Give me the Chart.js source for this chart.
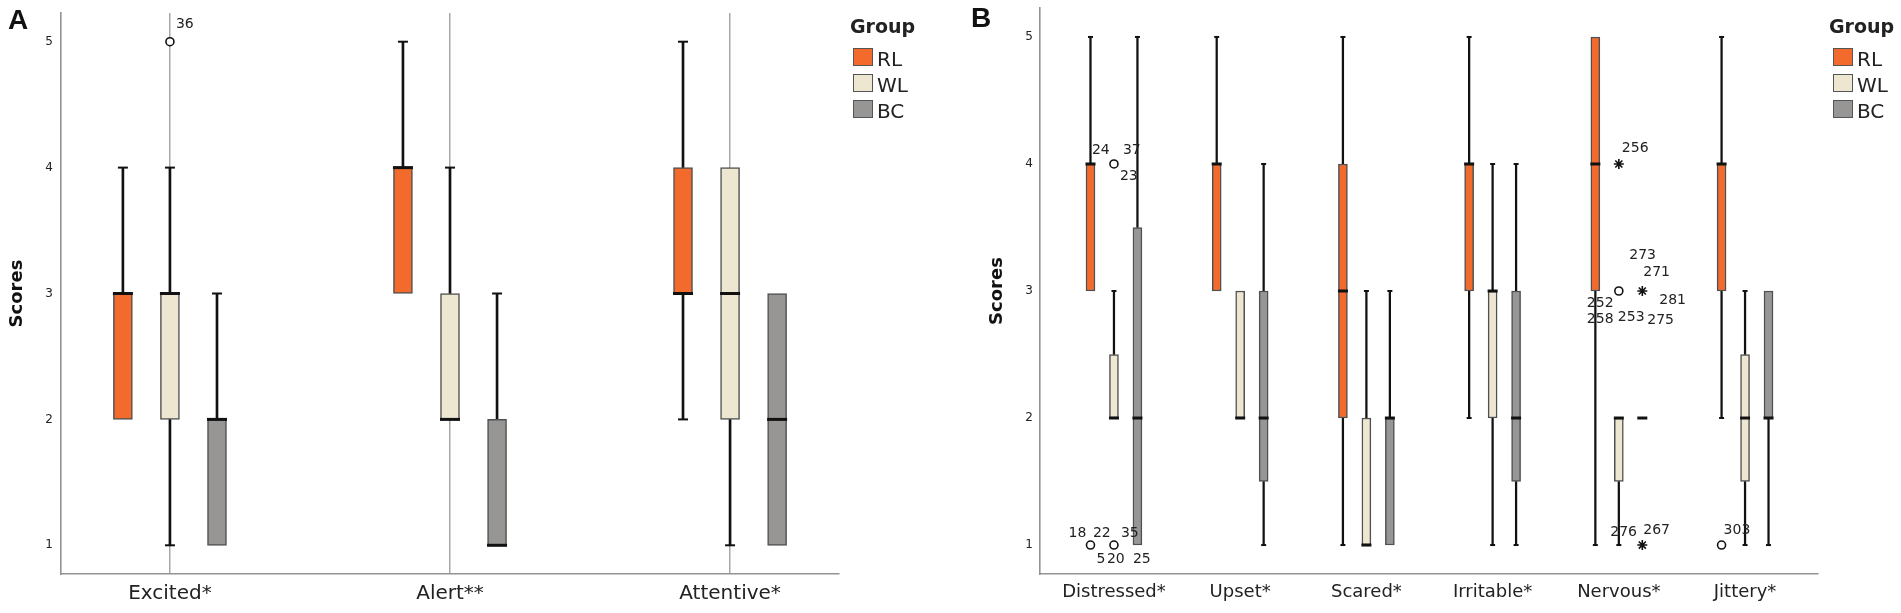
<!DOCTYPE html>
<html><head><meta charset="utf-8">
<script src="https://cdn.jsdelivr.net/npm/chart.js@4.4.1/dist/chart.umd.min.js"></script>
<style>
html,body{margin:0;padding:0;background:#fff;width:1901px;height:613px;overflow:hidden;}
.wrap{position:absolute;top:0;height:613px;}
.panel{position:absolute;font:bold 28px 'Liberation Sans',Arial,sans-serif;line-height:28px;color:#111;}
.lgt{position:absolute;font:bold 19px 'DejaVu Sans',sans-serif;line-height:19px;color:#222;}
.sw{position:absolute;width:18px;height:16px;border:1.5px solid #555;}
.lgl{position:absolute;font:20px 'DejaVu Sans',sans-serif;line-height:20px;color:#222;}
</style></head><body>
<div class="wrap" style="left:0;width:950px"><canvas id="ca"></canvas></div>
<div class="wrap" style="left:950px;width:951px"><canvas id="cb"></canvas></div>
<div class="panel" style="left:8px;top:6px">A</div>
<div class="panel" style="left:971px;top:4px">B</div>
<div id="legA"></div><div id="legB"></div>
<script>
// ---------------- DATA ----------------
const groups = ['RL', 'WL', 'BC'];
const yTicks = [1, 2, 3, 4, 5];
// five-number summaries: [min, q1, median, q3, max]
const categoriesA = ['Excited*', 'Alert**', 'Attentive*'];
const rlA = [[2,2,3,3,4],[3,3,4,4,5],[2,3,3,4,5]];
const wlA = [[1,2,3,3,4],[2,2,2,3,4],[1,2,3,4,4]];
const bcA = [[1,1,2,2,3],[1,1,1,2,3],[1,1,2,3,3]];
// outliers: [category index, group index, value, marker]
const outliersA = [[0,1,5,'circle']];
const outlierIdsA = [['36']];

const categoriesB = ['Distressed*', 'Upset*', 'Scared*', 'Irritable*', 'Nervous*', 'Jittery*'];
const rlB = [[3,3,4,4,5],[3,3,4,4,5],[1,2,3,4,5],[2,3,4,4,5],[1,3,4,5,5],[2,3,4,4,5]];
const wlB = [[2,2,2,2.5,3],[2,2,2,3,3],[1,1,1,2,3],[1,2,3,3,4],[1,1.5,2,2,2],[1,1.5,2,2.5,3]];
const bcB = [[1,1,2,3.5,5],[1,1.5,2,3,4],[1,1,2,2,3],[1,1.5,2,3,4],[2,2,2,2,2],[1,2,2,3,3]];
const outliersB = [
  [0,0,1,'circle'],
  [0,1,4,'circle'],
  [0,1,1,'circle'],
  [4,1,4,'star'],
  [4,1,3,'circle'],
  [4,2,3,'star'],
  [4,2,1,'star'],
  [5,0,1,'circle']
];
const outlierIdsB = [['18','5'],['24','37','23'],['22','35','20','25'],['256'],['252','258','253'],['273','271','281','275'],['276','267'],['303']];

// ---------------- LAYOUT / STYLE ----------------
const fills = ['#F26B2D', '#EDE7D2', '#989595'];
const idOffsetsA = [[[6,-17]]];
const idOffsetsB = [
  [[-22,-12],[6,14]],
  [[-22,-14],[9,-14],[6,12]],
  [[-21,-12],[7,-12],[-7,14],[19,14]],
  [[3,-16]],
  [[-32,12],[-32,28],[-1,26]],
  [[-13,-36],[1,-19],[17,9],[5,29]],
  [[-32,-13],[1,-15]],
  [[2,-15]]
];

Chart.defaults.font.family = "'DejaVu Sans', sans-serif";

function buildDatasets(stats, outliers, L) {
  const ds = [];
  stats.forEach((st, g) => {
    const xs = st.map((s, i) => i + (g - 1) * L.step);
    ds.push({
      type: 'bar', label: groups[g], order: 2, grouped: false,
      data: st.map((s, i) => ({x: xs[i], y: [s[1], s[3]]})),
      backgroundColor: fills[g], borderColor: '#505050', borderWidth: 1.5,
      borderSkipped: false, barThickness: L.boxW
    });
    const wh = [], caps = [];
    st.forEach((s, i) => {
      if (s[0] < s[1]) { wh.push({x: xs[i], y: [s[0], s[1]]}); caps.push({x: xs[i], y: s[0]}); }
      if (s[4] > s[3]) { wh.push({x: xs[i], y: [s[3], s[4]]}); caps.push({x: xs[i], y: s[4]}); }
    });
    ds.push({
      type: 'bar', label: groups[g] + ' whiskers', order: 3, grouped: false,
      data: wh, backgroundColor: '#111', borderWidth: 0, barThickness: L.whiskerW
    });
    ds.push({
      type: 'scatter', label: groups[g] + ' caps', order: 1, data: caps,
      pointStyle: 'line', radius: L.capR, borderWidth: 2, borderColor: '#111'
    });
    ds.push({
      type: 'scatter', label: groups[g] + ' median', order: 0,
      data: st.map((s, i) => ({x: xs[i], y: s[2]})),
      pointStyle: 'line', radius: L.boxW / 2 + 0.5, borderWidth: 3, borderColor: '#111'
    });
  });
  ['circle', 'star'].forEach(m => {
    ds.push({
      type: 'scatter', label: 'outliers ' + m, order: 0,
      data: outliers.filter(o => o[3] === m).map(o => ({x: o[0] + (o[1] - 1) * L.step, y: o[2]})),
      pointStyle: m, radius: m === 'circle' ? 4 : 5, borderWidth: 1.6,
      borderColor: '#111', backgroundColor: '#fff'
    });
  });
  return ds;
}

function idLabelPlugin(outliers, ids, offs, L) {
  return {
    id: 'idLabels',
    afterDatasetsDraw(chart) {
      const {ctx, scales: {x, y}} = chart;
      ctx.save();
      ctx.font = "14px 'DejaVu Sans', sans-serif";
      ctx.fillStyle = '#222';
      ctx.textAlign = 'left';
      ctx.textBaseline = 'middle';
      outliers.forEach((o, i) => {
        const px = x.getPixelForValue(o[0] + (o[1] - 1) * L.step);
        const py = y.getPixelForValue(o[2]);
        ids[i].forEach((t, j) => ctx.fillText(t, px + offs[i][j][0], py + offs[i][j][1]));
      });
      ctx.restore();
    }
  };
}

function makeChart(canvasId, cats, stats, outliers, ids, offs, L) {
  new Chart(document.getElementById(canvasId), {
    type: 'bar',
    data: {datasets: buildDatasets(stats, outliers, L)},
    options: {
      responsive: true, maintainAspectRatio: false, animation: false, events: [],
      layout: {padding: {left: 0, right: L.padRight, top: 8, bottom: 0}},
      plugins: {legend: {display: false}, tooltip: {enabled: false}},
      scales: {
        x: {
          type: 'linear', min: L.xMin, max: L.xMax, offset: false,
          afterBuildTicks: s => { s.ticks = cats.map((c, i) => ({value: i})); },
          afterFit: s => { s.height = 39; s.paddingLeft = 0; s.paddingRight = 0; },
          grid: {display: L.vGrid, offset: false, color: '#a8a8a8', lineWidth: 1.5, drawTicks: false},
          border: {display: true, color: '#939393', width: 1.6},
          ticks: {callback: v => cats[v] ?? '', autoSkip: false, maxRotation: 0,
                  padding: 8, color: '#222', font: {size: L.catFont}}
        },
        y: {
          type: 'linear', min: 0.772, max: 5.228,
          afterBuildTicks: s => { s.ticks = yTicks.map(v => ({value: v})); },
          afterFit: s => { s.width = L.yWidth; s.paddingTop = 0; s.paddingBottom = 0; },
          grid: {display: false, drawTicks: false},
          border: {display: true, color: '#939393', width: 1.6},
          ticks: {padding: L.tickPad, color: '#222', font: {size: 12}},
          title: {display: true, text: 'Scores', color: '#111',
                  font: {size: 18, weight: 'bold'}, padding: {top: L.titlePad, bottom: 0}}
        }
      }
    },
    plugins: [idLabelPlugin(outliers, ids, offs, L)]
  });
}

makeChart('ca', categoriesA, [rlA, wlA, bcA], outliersA, outlierIdsA, idOffsetsA, {
  step: 0.168, boxW: 19, whiskerW: 2, capR: 5, xMin: -0.389, xMax: 2.389,
  padRight: 111, yWidth: 61, tickPad: 8, titlePad: 6.5, vGrid: true, catFont: 20
});
makeChart('cb', categoriesB, [rlB, wlB, bcB], outliersB, outlierIdsB, idOffsetsB, {
  step: 0.186, boxW: 9, whiskerW: 1.6, capR: 2.5, xMin: -0.586, xMax: 5.578,
  padRight: 83, yWidth: 90, tickPad: 7, titlePad: 37, vGrid: false, catFont: 18
});

// HTML legends
function legend(el, titleLeft, swLeft) {
  let h = `<div class="lgt" style="left:${titleLeft}px;top:17px">Group</div>`;
  groups.forEach((g, i) => {
    h += `<div class="sw" style="left:${swLeft}px;top:${48 + 26 * i}px;background:${fills[i]}"></div>`;
    h += `<div class="lgl" style="left:${swLeft + 24}px;top:${49 + 26 * i}px">${g}</div>`;
  });
  document.getElementById(el).innerHTML = h;
}
legend('legA', 850, 853);
legend('legB', 1829, 1833);
</script>
</body></html>
